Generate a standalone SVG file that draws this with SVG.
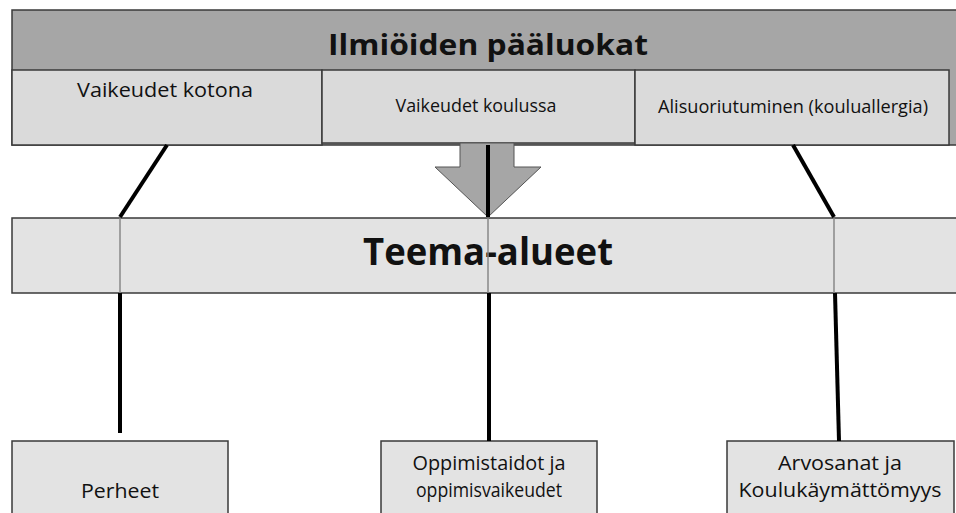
<svg xmlns="http://www.w3.org/2000/svg" width="956" height="513" viewBox="0 0 956 513">
<style>
text{font-family:"Open Sans","Liberation Sans",sans-serif;fill:#111;text-anchor:middle}
.box{fill:#dadada;stroke:#3a3a3a;stroke-width:1.5}
.lbox{fill:#e3e3e3;stroke:#3a3a3a;stroke-width:1.5}
.con{stroke:#000;stroke-width:4;fill:none;stroke-linecap:butt}
.inner{stroke:#888;stroke-width:1.5;fill:none}
</style>
<rect width="956" height="513" fill="#fff"/>
<g id="header">
<rect x="12" y="10" width="950" height="135" fill="#a6a6a6" stroke="#3a3a3a" stroke-width="1.5"/>
<text x="488" y="55" font-size="29" font-weight="bold" textLength="320" lengthAdjust="spacingAndGlyphs">Ilmiöiden pääluokat</text>
</g>
<g id="kotona">
<rect class="box" x="12" y="70" width="310" height="75"/>
<text x="165" y="97" font-size="20" textLength="176" lengthAdjust="spacingAndGlyphs">Vaikeudet kotona</text>
</g>
<g id="koulussa">
<rect class="box" x="322" y="70" width="313" height="73"/>
<text x="476" y="112" font-size="17.5" textLength="161" lengthAdjust="spacingAndGlyphs">Vaikeudet koulussa</text>
</g>
<g id="alisuoriutuminen">
<rect class="box" x="635" y="70" width="314" height="75"/>
<text x="793" y="113" font-size="18" textLength="270" lengthAdjust="spacingAndGlyphs">Alisuoriutuminen (kouluallergia)</text>
</g>
<g id="arrow">
<polygon points="460,143 514,143 514,167 541,167 488,217 435,167 460,167" fill="#a6a6a6" stroke="#555" stroke-width="1"/>
</g>
<g id="teema">
<rect class="lbox" x="12" y="218" width="950" height="75"/>
<text x="488" y="265" font-size="38" font-weight="bold" textLength="250" lengthAdjust="spacingAndGlyphs">Teema-alueet</text>
</g>
<g id="perheet">
<rect class="lbox" x="12" y="441" width="216" height="80"/>
<text x="120" y="498" font-size="20" textLength="78" lengthAdjust="spacingAndGlyphs">Perheet</text>
</g>
<g id="oppimistaidot">
<rect class="lbox" x="381" y="441" width="216" height="80"/>
<text x="489" y="470" font-size="20" textLength="153" lengthAdjust="spacingAndGlyphs">Oppimistaidot ja</text>
<text x="489" y="497" font-size="20" textLength="146" lengthAdjust="spacingAndGlyphs">oppimisvaikeudet</text>
</g>
<g id="arvosanat">
<rect class="lbox" x="727" y="441" width="227" height="80"/>
<text x="840" y="470" font-size="20" textLength="124" lengthAdjust="spacingAndGlyphs">Arvosanat ja</text>
<text x="840" y="497" font-size="20" textLength="203" lengthAdjust="spacingAndGlyphs">Koulukäymättömyys</text>
</g>
<g id="connectors">
<polyline class="con" points="167,145 120,217"/>
<line class="inner" x1="120" y1="218" x2="120" y2="293"/>
<line class="con" x1="120" y1="293" x2="120" y2="433"/>
<line class="con" x1="488" y1="145" x2="488" y2="217"/>
<line class="inner" x1="488" y1="218" x2="488" y2="293"/>
<line class="con" x1="489" y1="293" x2="489" y2="441"/>
<line class="con" x1="793" y1="145" x2="834" y2="217"/>
<line class="inner" x1="834" y1="218" x2="834" y2="293"/>
<line class="con" x1="835" y1="293" x2="839" y2="441"/>
</g>
</svg>
